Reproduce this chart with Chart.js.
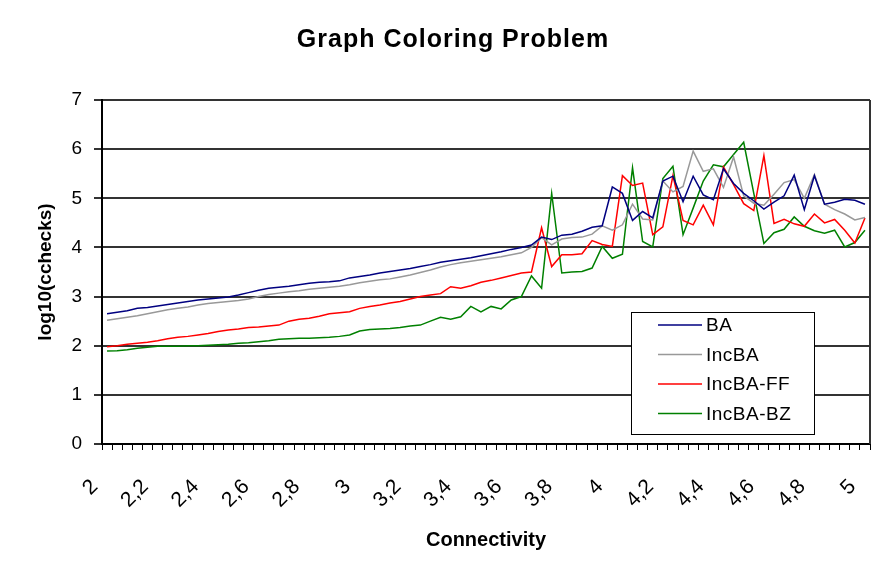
<!DOCTYPE html>
<html>
<head>
<meta charset="utf-8">
<script src="https://cdn.jsdelivr.net/npm/chart.js@4"></script>
<style>
  body { margin: 0; background: #fff; }
  canvas { display: block; }
</style>
</head>
<body>
<canvas id="chart" width="885" height="578"></canvas>
<script>
// Connectivity values (x categories)
const connectivity = [2, 2.04, 2.08, 2.12, 2.16, 2.2, 2.24, 2.28, 2.32, 2.36, 2.4, 2.44, 2.48, 2.52, 2.56, 2.6, 2.64, 2.68, 2.72, 2.76,
  2.8, 2.84, 2.88, 2.92, 2.96, 3, 3.04, 3.08, 3.12, 3.16, 3.2, 3.24, 3.28, 3.32, 3.36, 3.4, 3.44, 3.48, 3.52, 3.56,
  3.6, 3.64, 3.68, 3.72, 3.76, 3.8, 3.84, 3.88, 3.92, 3.96, 4, 4.04, 4.08, 4.12, 4.16, 4.2, 4.24, 4.28, 4.32, 4.36,
  4.4, 4.44, 4.48, 4.52, 4.56, 4.6, 4.64, 4.68, 4.72, 4.76, 4.8, 4.84, 4.88, 4.92, 4.96, 5];

// log10(cchecks) per algorithm
const ba = [2.65, 2.68, 2.71, 2.76, 2.78, 2.81, 2.84, 2.87, 2.90, 2.93,
  2.95, 2.97, 2.99, 3.03, 3.08, 3.13, 3.17, 3.19, 3.21, 3.24,
  3.27, 3.29, 3.30, 3.32, 3.38, 3.41, 3.44, 3.48, 3.51, 3.54,
  3.57, 3.61, 3.65, 3.70, 3.73, 3.76, 3.79, 3.83, 3.87, 3.91,
  3.96, 4.00, 4.05, 4.21, 4.16, 4.25, 4.27, 4.33, 4.41, 4.44,
  5.23, 5.10, 4.55, 4.73, 4.60, 5.35, 5.45, 4.93, 5.45, 5.07,
  4.97, 5.60, 5.30, 5.10, 4.95, 4.78, 4.92, 5.05, 5.47, 4.77,
  5.46, 4.88, 4.92, 4.98, 4.96, 4.88];

const incBA = [2.52, 2.55, 2.58, 2.61, 2.65, 2.69, 2.73, 2.76, 2.79, 2.83,
  2.86, 2.88, 2.90, 2.92, 2.95, 3.00, 3.04, 3.07, 3.10, 3.12,
  3.15, 3.17, 3.19, 3.21, 3.24, 3.28, 3.31, 3.34, 3.36, 3.40,
  3.44, 3.49, 3.54, 3.60, 3.65, 3.69, 3.72, 3.75, 3.78, 3.81,
  3.85, 3.89, 4.00, 4.20, 4.05, 4.17, 4.20, 4.21, 4.27, 4.44,
  4.35, 4.46, 4.88, 4.58, 4.56, 5.35, 5.13, 5.24, 5.96, 5.55,
  5.60, 5.22, 5.84, 5.05, 4.90, 4.86, 5.08, 5.32, 5.38, 5.00,
  5.48, 4.88, 4.77, 4.68, 4.56, 4.61];

const incBAFF = [1.98, 2.00, 2.03, 2.05, 2.07, 2.10, 2.14, 2.17, 2.19, 2.22,
  2.25, 2.29, 2.32, 2.34, 2.37, 2.38, 2.40, 2.42, 2.50, 2.54,
  2.56, 2.60, 2.65, 2.67, 2.69, 2.76, 2.80, 2.83, 2.87, 2.90,
  2.95, 3.00, 3.03, 3.06, 3.20, 3.17, 3.22, 3.29, 3.33, 3.38,
  3.43, 3.48, 3.50, 4.40, 3.61, 3.85, 3.85, 3.87, 4.14, 4.06,
  4.02, 5.46, 5.26, 5.31, 4.26, 4.42, 5.46, 4.55, 4.46, 4.86,
  4.46, 5.64, 5.28, 4.89, 4.75, 5.87, 4.49, 4.57, 4.48, 4.43,
  4.68, 4.50, 4.57, 4.35, 4.09, 4.60];

const incBABZ = [1.89, 1.90, 1.92, 1.95, 1.97, 1.99, 1.99, 1.99, 2.00, 2.00,
  2.01, 2.02, 2.03, 2.05, 2.06, 2.08, 2.10, 2.13, 2.14, 2.15,
  2.15, 2.16, 2.17, 2.19, 2.22, 2.30, 2.33, 2.34, 2.35, 2.37,
  2.40, 2.42, 2.50, 2.58, 2.54, 2.59, 2.80, 2.69, 2.80, 2.75,
  2.93, 3.00, 3.42, 3.17, 5.10, 3.48, 3.50, 3.51, 3.58, 4.02,
  3.78, 3.86, 5.62, 4.12, 4.01, 5.40, 5.65, 4.26, 4.80, 5.35,
  5.68, 5.64, 5.89, 6.14, 5.10, 4.08, 4.30, 4.37, 4.62, 4.43,
  4.34, 4.29, 4.35, 4.01, 4.10, 4.35];

const seriesNames = ['BA', 'IncBA', 'IncBA-FF', 'IncBA-BZ'];
const seriesColors = ['#000080', '#999999', '#ff0000', '#008000'];

const FONT = '"Liberation Sans", Arial, sans-serif';

// titles drawn straight onto the canvas
const titlesPlugin = {
  id: 'titles',
  afterDraw(chart) {
    const ctx = chart.ctx;
    const area = chart.chartArea;
    ctx.save();
    ctx.fillStyle = '#000';
    ctx.textAlign = 'center';
    ctx.textBaseline = 'middle';
    ctx.font = 'bold 25px ' + FONT;
    ctx.letterSpacing = '1px';
    ctx.fillText('Graph Coloring Problem', 453, 40);
    ctx.font = 'bold 20px ' + FONT;
    ctx.letterSpacing = '0px';
    ctx.fillText('Connectivity', 486, 540);
    ctx.translate(46, (area.top + area.bottom) / 2);
    ctx.rotate(-Math.PI / 2);
    ctx.font = 'bold 19px ' + FONT;
    ctx.fillText('log10(cchecks)', 0, 0);
    ctx.restore();

    // right edge of the plot area
    ctx.save();
    ctx.strokeStyle = '#333';
    ctx.lineWidth = 2;
    ctx.beginPath();
    ctx.moveTo(area.right, area.top);
    ctx.lineTo(area.right, area.bottom);
    ctx.stroke();
    ctx.restore();
  }
};

// boxed legend inside the plot, like the original
const boxLegend = {
  id: 'boxLegend',
  afterDraw(chart) {
    const ctx = chart.ctx;
    const x = 631, y = 312, w = 183, h = 122;
    ctx.save();
    ctx.fillStyle = '#fff';
    ctx.fillRect(x, y, w, h);
    ctx.strokeStyle = '#000';
    ctx.lineWidth = 1;
    ctx.strokeRect(x + 0.5, y + 0.5, w, h);
    ctx.font = '19px ' + FONT;
    ctx.textBaseline = 'middle';
    ctx.textAlign = 'left';
    chart.data.datasets.forEach((ds, i) => {
      const ry = y + 13 + i * 29.5;
      ctx.strokeStyle = ds.borderColor;
      ctx.lineWidth = 1.5;
      ctx.beginPath();
      ctx.moveTo(x + 27, ry);
      ctx.lineTo(x + 71, ry);
      ctx.stroke();
      ctx.fillStyle = '#000';
      ctx.letterSpacing = '0.5px';
      ctx.fillText(ds.label, x + 75, ry + 1);
    });
    ctx.restore();
  }
};

const ctx = document.getElementById('chart').getContext('2d');
const chart = new Chart(ctx, {
  type: 'line',
  data: {
    labels: connectivity,
    datasets: [ba, incBA, incBAFF, incBABZ].map((vals, i) => ({
      label: seriesNames[i],
      data: vals,
      borderColor: seriesColors[i],
      backgroundColor: seriesColors[i],
      borderWidth: 1.5,
      pointRadius: 0,
      tension: 0,
      fill: false
    }))
  },
  options: {
    responsive: false,
    animation: false,
    layout: { padding: { left: 30, top: 100, right: 15, bottom: 70 } },
    plugins: {
      legend: { display: false },
      title: { display: false },
      tooltip: { enabled: false }
    },
    scales: {
      x: {
        type: 'category',
        offset: true,
        grid: { offset: true, drawOnChartArea: false, drawTicks: true, tickLength: 6, color: '#000', lineWidth: 1 },
        border: { display: true, color: '#000', width: 2 },
        ticks: {
          autoSkip: false,
          maxRotation: 45,
          minRotation: 45,
          padding: 12,
          color: '#000',
          font: { family: FONT, size: 21 },
          callback: function (value, index) {
            return index % 5 === 0 ? String(connectivity[index]).replace('.', ',') + '   ' : '';
          }
        },
        afterFit: scale => {
          scale.height = 64;
          scale.paddingLeft = 0;
          scale.paddingRight = 0;
        }
      },
      y: {
        min: 0,
        max: 7,
        grid: { color: '#333', lineWidth: 2, tickLength: 8, drawTicks: true },
        border: { display: true, color: '#000', width: 2 },
        ticks: {
          stepSize: 1,
          padding: 12,
          color: '#000',
          font: { family: FONT, size: 19 }
        },
        afterFit: scale => { scale.width = 72; }
      }
    }
  },
  plugins: [titlesPlugin, boxLegend]
});
</script>
</body>
</html>
